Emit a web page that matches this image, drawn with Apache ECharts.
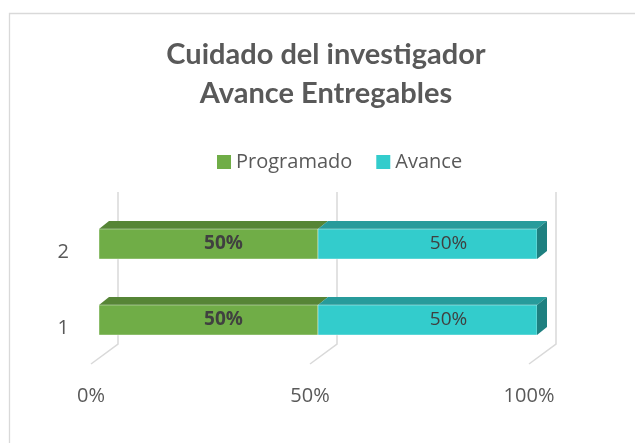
<!DOCTYPE html>
<html>
<head>
<meta charset="utf-8">
<script src="https://cdn.jsdelivr.net/npm/echarts@6/dist/echarts.min.js"></script>
<style>
html, body { margin: 0; padding: 0; background: #fff; }
#main { width: 635px; height: 443px; }
</style>
</head>
<body>
<div id="main"></div>
<script>
// datos
var categorias = ['1', '2'];
var programado = [50, 50];
var avance = [50, 50];
var ticks = [0, 50, 100];

var DX = 8, DY = 8;      // desplazamiento frente de barra
var PX = 10, PY = 8;     // profundidad barra
var WX = 27, WY = 20;    // pared del fondo
var BAR_H = 30;

var myChart = echarts.init(document.getElementById('main'));

// barra 3D con cara frontal, superior y lateral
function barItem(base, colors, lastSeries, labelBold, labelShift) {
	return function(params, api) {
		var idx = api.value(0);
		var start = base ? base[params.dataIndex] : 0;
		var end = start + api.value(1);
		var p0 = api.coord([start, idx]);
		var p1 = api.coord([end, idx]);
		var x0 = p0[0] + DX, x1 = p1[0] + DX;
		var yt = p0[1] - DY - BAR_H / 2, yb = yt + BAR_H;
		var children = [ {
			type : 'polygon',
			shape : { points : [ [x0, yt], [x1, yt], [x1 + PX, yt - PY], [x0 + PX, yt - PY] ] },
			style : { fill : colors.top }
		}, {
			type : 'rect',
			shape : { x : x0, y : yt, width : x1 - x0, height : BAR_H },
			style : { fill : colors.front, stroke : 'rgba(255,255,255,0.5)', lineWidth : 0.8 }
		} ];
		if (lastSeries) {
			children.push({
				type : 'polygon',
				shape : { points : [ [x1, yt], [x1 + PX, yt - PY], [x1 + PX, yb - PY], [x1, yb] ] },
				style : { fill : colors.side }
			});
		}
		children.push({
			type : 'text',
			style : {
				x : (x0 + x1) / 2 + labelShift,
				y : yt + BAR_H / 2,
				text : api.value(1) + '%',
				align : 'center',
				verticalAlign : 'middle',
				fill : '#404040',
				font : (labelBold ? 'bold ' : '') + '19px "Open Sans"'
			}
		});
		return { type : 'group', children : children };
	};
}

myChart.setOption({
	backgroundColor : '#fff',
	animation : false,
	title : {
		text : 'Cuidado del investigador\nAvance Entregables',
		left : 321,
		textAlign : 'center',
		top : 30,
		textStyle : {
			fontFamily : 'Lato',
			fontWeight : 'bold',
			fontSize : 29,
			lineHeight : 39,
			color : '#595959'
		}
	},
	legend : {
		top : 147,
		left : 212,
		itemWidth : 14,
		itemHeight : 14,
		itemGap : 24,
		icon : 'rect',
		textStyle : { fontFamily : 'Open Sans', fontSize : 20, color : '#595959' },
		data : [ 'Programado', 'Avance' ]
	},
	graphic : [ {
		type : 'rect',
		shape : { x : 9.5, y : 13.5, width : 700, height : 500 },
		style : { fill : 'none', stroke : '#d9d9d9', lineWidth : 1.3 },
		silent : true
	} ],
	grid : { left : 91, top : 214, width : 438, height : 152 },
	xAxis : {
		type : 'value',
		min : 0,
		max : 100,
		interval : 50,
		axisLine : { show : false },
		axisTick : { show : false },
		splitLine : { show : false },
		axisLabel : {
			margin : 20,
			formatter : '{value}%',
			fontFamily : 'Open Sans',
			fontSize : 20,
			color : '#595959'
		}
	},
	yAxis : {
		type : 'category',
		data : categorias,
		axisLine : { show : false },
		axisTick : { show : false },
		axisLabel : {
			margin : 22,
			fontFamily : 'Open Sans',
			fontSize : 20,
			color : '#595959'
		}
	},
	series : [ {
		// pared del fondo
		type : 'custom',
		silent : true,
		z : 1,
		data : ticks.map(function(t) { return [ t, 0 ]; }),
		renderItem : function(params, api) {
			var cs = params.coordSys;
			var x = api.coord([ api.value(0), 0 ])[0];
			var bottom = cs.y + cs.height - 2;
			var top = cs.y - 2;
			return {
				type : 'polyline',
				shape : { points : [ [x, bottom], [x + WX, bottom - WY], [x + WX, top - WY] ] },
				style : { fill : 'none', stroke : '#d9d9d9', lineWidth : 1.5 }
			};
		}
	}, {
		name : 'Programado',
		type : 'custom',
		z : 2,
		itemStyle : { color : '#70AD47' },
		data : categorias.map(function(c, i) { return [ i, programado[i] ]; }),
		renderItem : barItem(null, { front : '#70AD47', top : '#568536', side : '#4A7530' }, false, true, 15)
	}, {
		name : 'Avance',
		type : 'custom',
		z : 2,
		itemStyle : { color : '#33CCCC' },
		data : categorias.map(function(c, i) { return [ i, avance[i] ]; }),
		renderItem : barItem(programado, { front : '#33CCCC', top : '#279B9B', side : '#1E8080' }, true, false, 21)
	} ]
});
</script>
</body>
</html>
